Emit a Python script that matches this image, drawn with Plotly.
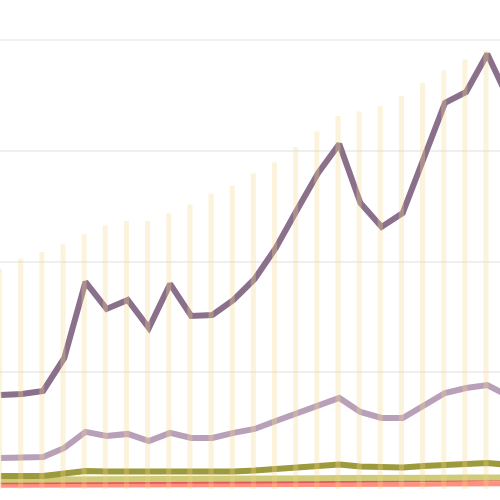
import plotly.graph_objects as go

periods = list(range(25))

# bar series (secondary axis)
bar_totals = [199, 208, 214, 221, 230, 238, 242, 242, 249, 257, 267, 274,
              285, 295, 309, 323, 337, 341, 346, 355, 367, 378, 388, 396, 400]

# line series (primary axis)
series_a = [79.5, 80.4, 83.1, 112.9, 181.6, 157.2, 165.3, 140.0, 179.8, 150.9,
            151.8, 165.3, 184.3, 212.3, 246.6, 280.0, 306.2, 252.9, 231.3, 243.9,
            293.6, 343.3, 353.2, 387.5, 346.9]
series_b = [22.6, 23.5, 23.5, 31.6, 46.1, 42.5, 44.3, 37.9, 45.2, 40.6,
            40.6, 45.2, 48.8, 56.0, 63.2, 69.6, 76.8, 64.1, 58.7, 58.7,
            70.5, 81.3, 85.8, 88.5, 78.6]
series_c = [6.3, 6.3, 6.3, 8.6, 10.8, 10.4, 10.4, 9.9, 10.4, 9.9,
            9.9, 10.4, 11.3, 12.6, 14.0, 15.4, 16.7, 14.9, 14.0, 14.0,
            15.4, 16.7, 17.6, 18.1, 16.3]
series_d = [3.0, 3.0, 3.0, 3.3, 3.6, 3.6, 3.6, 3.5, 3.6, 3.6,
            3.6, 3.7, 3.8, 3.9, 4.1, 4.3, 4.5, 4.3, 4.2, 4.2,
            4.5, 4.8, 5.0, 5.1, 5.0]
series_e = [0.2, 0.2, 0.2, 0.4, 0.6, 0.6, 0.6, 0.6, 0.7, 0.7,
            0.7, 0.8, 0.9, 1.0, 1.2, 1.4, 1.5, 1.4, 1.4, 1.5,
            1.8, 2.1, 2.4, 2.6, 2.6]
series_f = [-2.3, -2.3, -2.3, -2.2, -2.1, -2.1, -2.1, -2.1, -2.0, -2.0,
            -2.0, -1.9, -1.9, -1.8, -1.7, -1.6, -1.5, -1.6, -1.6, -1.5,
            -1.3, -1.1, -1.0, -0.9, -0.9]

fig = go.Figure()

lines = [
    (series_f, "#FF8F80", 4.5),
    (series_e, "#E2585C", 3),
    (series_d, "#CFCB78", 6),
    (series_c, "#9C9A3C", 6),
    (series_b, "#B8A0B9", 6),
    (series_a, "#8B708C", 6),
]
for vals, color, w in lines:
    fig.add_trace(go.Scatter(x=[p + 0.06 for p in periods], y=vals, mode="lines",
                             line=dict(color=color, width=w)))

fig.add_trace(go.Bar(x=periods, y=bar_totals, width=0.24, yaxis="y2",
                     marker=dict(color="rgba(245,215,140,0.3)", line=dict(width=0))))

fig.update_layout(
    width=500,
    height=500,
    margin=dict(l=0, r=0, t=0, b=0),
    paper_bgcolor="white",
    plot_bgcolor="white",
    showlegend=False,
    xaxis=dict(range=[0.021, 23.66], showgrid=False, zeroline=False,
               showticklabels=False, ticks=""),
    yaxis=dict(range=[-15.4, 436.3], dtick=100, showgrid=True,
               gridcolor="#EFEFEF", gridwidth=1.5, zeroline=False,
               showticklabels=False, ticks=""),
    yaxis2=dict(range=[-10.0, 441.7], overlaying="y", showgrid=False,
                zeroline=False, showticklabels=False, ticks=""),
)

# page body has a default 8px margin; drop it so the plot fills the window
fig.write_html("out.html", config={"displayModeBar": False},
               post_script="document.body.style.margin='0';")
